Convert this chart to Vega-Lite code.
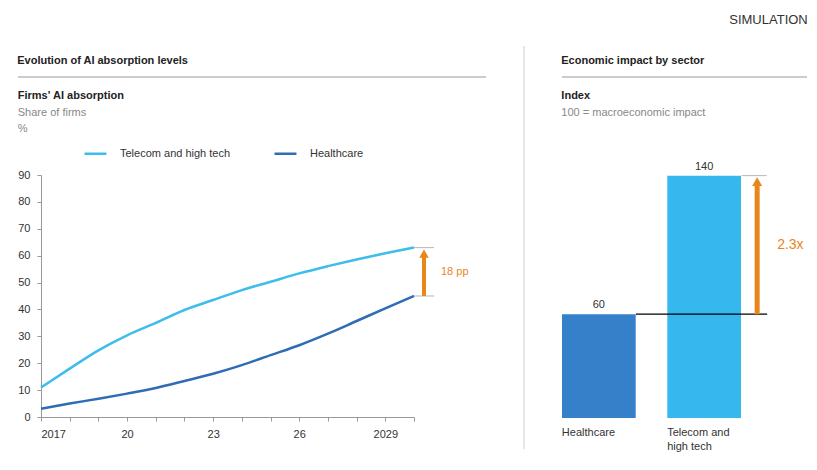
{
  "$schema": "https://vega.github.io/schema/vega-lite/v6.json",
  "padding": {"left": 17, "top": 14, "right": 5, "bottom": 5},
  "title": {"text": "SIMULATION", "anchor": "end", "fontSize": 13, "fontWeight": "normal", "color": "#333", "offset": 18},
  "config": {
    "font": "Liberation Sans",
    "view": {"stroke": null},
    "axis": {"labelFont": "Liberation Sans", "labelFontSize": 11, "labelColor": "#333", "domainColor": "#999", "tickColor": "#999", "grid": false, "title": null, "labelOverlap": false},
    "legend": {"labelFont": "Liberation Sans", "labelFontSize": 11, "labelColor": "#333"},
    "title": {"font": "Liberation Sans", "subtitleFont": "Liberation Sans"}
  },
  "resolve": {"legend": {"stroke": "independent"}, "scale": {"stroke": "independent"}},
  "columns": 3,
  "spacing": 36,
  "align": "none",
  "bounds": "full",
  "concat": [
    {
      "columns": 1,
      "align": "none",
      "bounds": "full",
      "spacing": 12,
      "resolve": {"legend": {"stroke": "independent"}},
      "concat": [
        {
          "width": 445, "height": 1,
          "data": {"values": [{}]},
          "title": {"text": ["", "Evolution of AI absorption levels"], "lineHeight": 10, "anchor": "start", "frame": "bounds", "fontSize": 11, "fontWeight": "bold", "color": "#222", "offset": 10},
          "mark": {"type": "rule", "color": "#bbb", "strokeWidth": 1.5},
          "encoding": {
            "x": {"datum": -23, "type": "quantitative", "scale": {"domain": [0, 445]}, "axis": null},
            "x2": {"datum": 445},
            "y": {"datum": 0, "type": "quantitative", "axis": null, "scale": {"domain": [0, 1]}}
          }
        },
        {
          "width": 373, "height": 242,
          "title": {"text": "Firms' AI absorption", "subtitle": ["Share of firms", "%"], "anchor": "start", "frame": "bounds", "fontSize": 11, "fontWeight": "bold", "color": "#222", "subtitleColor": "#888", "subtitleFontSize": 11, "subtitlePadding": 6, "subtitleLineHeight": 16, "offset": 7},
          "layer": [
            {
              "data": {"values": [
                {"year": 2017, "sector": "Telecom and high tech", "value": 11},
                {"year": 2018, "sector": "Telecom and high tech", "value": 18},
                {"year": 2019, "sector": "Telecom and high tech", "value": 24.8},
                {"year": 2020, "sector": "Telecom and high tech", "value": 30.4},
                {"year": 2021, "sector": "Telecom and high tech", "value": 35},
                {"year": 2022, "sector": "Telecom and high tech", "value": 39.8},
                {"year": 2023, "sector": "Telecom and high tech", "value": 43.5},
                {"year": 2024, "sector": "Telecom and high tech", "value": 47.2},
                {"year": 2025, "sector": "Telecom and high tech", "value": 50.3},
                {"year": 2026, "sector": "Telecom and high tech", "value": 53.4},
                {"year": 2027, "sector": "Telecom and high tech", "value": 56.1},
                {"year": 2028, "sector": "Telecom and high tech", "value": 58.6},
                {"year": 2029, "sector": "Telecom and high tech", "value": 60.9},
                {"year": 2030, "sector": "Telecom and high tech", "value": 63},
                {"year": 2017, "sector": "Healthcare", "value": 3.1},
                {"year": 2018, "sector": "Healthcare", "value": 5},
                {"year": 2019, "sector": "Healthcare", "value": 6.8},
                {"year": 2020, "sector": "Healthcare", "value": 8.7},
                {"year": 2021, "sector": "Healthcare", "value": 10.8},
                {"year": 2022, "sector": "Healthcare", "value": 13.4},
                {"year": 2023, "sector": "Healthcare", "value": 16.1},
                {"year": 2024, "sector": "Healthcare", "value": 19.3},
                {"year": 2025, "sector": "Healthcare", "value": 23},
                {"year": 2026, "sector": "Healthcare", "value": 26.7},
                {"year": 2027, "sector": "Healthcare", "value": 31},
                {"year": 2028, "sector": "Healthcare", "value": 35.7},
                {"year": 2029, "sector": "Healthcare", "value": 40.4},
                {"year": 2030, "sector": "Healthcare", "value": 45}
              ]},
              "mark": {"type": "line", "strokeWidth": 2.5, "interpolate": "monotone"},
              "encoding": {
                "x": {"field": "year", "type": "quantitative", "scale": {"domain": [2017, 2030], "nice": false, "zero": false},
                      "axis": {"values": [2017, 2018, 2019, 2020, 2021, 2022, 2023, 2024, 2025, 2026, 2027, 2028, 2029, 2030], "tickCount": 30, "labelOverlap": false, "tickSize": 4, "labelPadding": 7,
                               "labelExpr": "datum.value == 2017 || datum.value == 2029 ? '' + datum.value : (datum.value == 2020 || datum.value == 2023 || datum.value == 2026) ? substring('' + datum.value, 2, 4) : ''"}},
                "y": {"field": "value", "type": "quantitative", "scale": {"domain": [0, 90], "nice": false}, "axis": {"values": [0, 10, 20, 30, 40, 50, 60, 70, 80, 90], "tickCount": 20, "labelOverlap": false, "tickSize": 4, "labelPadding": 7}},
                "stroke": {"field": "sector", "type": "nominal",
                           "scale": {"domain": ["Telecom and high tech", "Healthcare"], "range": ["#3DBDEB", "#2E6DB4"]},
                           "legend": {"title": null, "orient": "none", "legendX": 42, "legendY": -34, "direction": "horizontal", "symbolType": "stroke", "symbolSize": 480, "symbolStrokeWidth": 2.5, "labelOffset": 12, "columnPadding": 38}}
              }
            },
            {
              "data": {"values": [{"year": 2030, "lo": 45, "hi": 63, "mid": 54, "label": "18 pp"}]},
              "layer": [
                {"mark": {"type": "tick", "orient": "horizontal", "color": "#999", "size": 20, "thickness": 1, "xOffset": 10},
                 "encoding": {"x": {"field": "year", "type": "quantitative"}, "y": {"field": "lo", "type": "quantitative"}}},
                {"mark": {"type": "tick", "orient": "horizontal", "color": "#999", "size": 20, "thickness": 1, "xOffset": 10},
                 "encoding": {"x": {"field": "year", "type": "quantitative"}, "y": {"field": "hi", "type": "quantitative"}}},
                {"mark": {"type": "rule", "color": "#E8861A", "strokeWidth": 4, "xOffset": 10, "y2Offset": 8},
                 "encoding": {"x": {"field": "year", "type": "quantitative"}, "y": {"field": "lo", "type": "quantitative"}, "y2": {"field": "hi"}}},
                {"mark": {"type": "point", "shape": "triangle-up", "filled": true, "color": "#E8861A", "size": 90, "opacity": 1, "xOffset": 10, "yOffset": 6},
                 "encoding": {"x": {"field": "year", "type": "quantitative"}, "y": {"field": "hi", "type": "quantitative"}}},
                {"mark": {"type": "text", "color": "#E8861A", "fontSize": 11, "align": "left", "dx": 27},
                 "encoding": {"x": {"field": "year", "type": "quantitative"}, "y": {"field": "mid", "type": "quantitative"}, "text": {"field": "label"}}}
              ]
            }
          ]
        }
      ]
    },
    {
      "width": 1, "height": 373,
      "data": {"values": [{}]},
      "mark": {"type": "rule", "color": "#ccc"},
      "encoding": {
        "x": {"datum": 0, "type": "quantitative", "axis": null, "scale": {"domain": [0, 1]}},
        "y": {"datum": 403, "type": "quantitative", "axis": null, "scale": {"domain": [0, 373], "nice": false}},
        "y2": {"datum": 0}
      }
    },
    {
      "columns": 1,
      "align": "none",
      "bounds": "full",
      "spacing": 12,
      "concat": [
        {
          "width": 245, "height": 1,
          "data": {"values": [{}]},
          "title": {"text": ["", "Economic impact by sector"], "lineHeight": 10, "anchor": "start", "frame": "bounds", "fontSize": 11, "fontWeight": "bold", "color": "#222", "offset": 10},
          "mark": {"type": "rule", "color": "#bbb", "strokeWidth": 1.5},
          "encoding": {"y": {"datum": 0, "type": "quantitative", "axis": null, "scale": {"domain": [0, 1]}}}
        },
        {
          "width": 179, "height": 277,
          "title": {"text": "Index", "subtitle": ["100 = macroeconomic impact"], "anchor": "start", "frame": "bounds", "fontSize": 11, "fontWeight": "bold", "color": "#222", "subtitleColor": "#888", "subtitleFontSize": 11, "subtitlePadding": 6, "subtitleLineHeight": 16, "offset": 23},
          "layer": [
            {
              "data": {"values": [{"sector": "Healthcare", "value": 60}, {"sector": "Telecom and high tech", "value": 140}]},
              "layer": [
                {"mark": {"type": "bar"},
                 "encoding": {
                   "x": {"field": "sector", "type": "nominal", "sort": null, "scale": {"paddingInner": 0.3, "paddingOuter": 0},
                         "axis": {"labelAlign": "left", "labelAngle": 0, "labelOffset": -37, "ticks": false, "domain": false, "labelPadding": 8, "labelLineHeight": 14,
                                  "labelExpr": "datum.value == 'Telecom and high tech' ? ['Telecom and', 'high tech'] : datum.value"}},
                   "y": {"field": "value", "type": "quantitative", "scale": {"domain": [0, 160], "nice": false}, "axis": null},
                   "fill": {"field": "sector", "type": "nominal", "scale": {"domain": ["Healthcare", "Telecom and high tech"], "range": ["#3580C8", "#36B7EE"]}, "legend": null}
                 }},
                {"mark": {"type": "text", "baseline": "bottom", "dy": -4, "fontSize": 11, "color": "#333"},
                 "encoding": {"x": {"field": "sector", "type": "nominal"}, "y": {"field": "value", "type": "quantitative"}, "text": {"field": "value"}}}
              ]
            },
            {
              "data": {"values": [{"from": "Healthcare", "to": "Telecom and high tech", "lo": 60, "hi": 140, "mid": 100, "label": "2.3x"}]},
              "layer": [
                {"mark": {"type": "rule", "color": "#000", "strokeWidth": 1.2, "xOffset": 37, "x2Offset": 63},
                 "encoding": {"x": {"field": "from", "type": "nominal"}, "x2": {"field": "to"}, "y": {"field": "lo", "type": "quantitative"}}},
                {"mark": {"type": "tick", "orient": "horizontal", "color": "#999", "size": 25, "thickness": 1, "xOffset": 50},
                 "encoding": {"x": {"field": "to", "type": "nominal"}, "y": {"field": "hi", "type": "quantitative"}}},
                {"mark": {"type": "rule", "color": "#E8861A", "strokeWidth": 5, "xOffset": 53, "x2Offset": 53, "y2Offset": 8},
                 "encoding": {"x": {"field": "to", "type": "nominal"}, "y": {"field": "lo", "type": "quantitative"}, "y2": {"field": "hi"}}},
                {"mark": {"type": "point", "shape": "triangle-up", "filled": true, "color": "#E8861A", "size": 100, "opacity": 1, "xOffset": 53, "yOffset": 6},
                 "encoding": {"x": {"field": "to", "type": "nominal"}, "y": {"field": "hi", "type": "quantitative"}}},
                {"mark": {"type": "text", "color": "#E8861A", "fontSize": 14, "align": "left", "dx": 73},
                 "encoding": {"x": {"field": "to", "type": "nominal"}, "y": {"field": "mid", "type": "quantitative"}, "text": {"field": "label"}}}
              ]
            }
          ]
        }
      ]
    }
  ]
}
